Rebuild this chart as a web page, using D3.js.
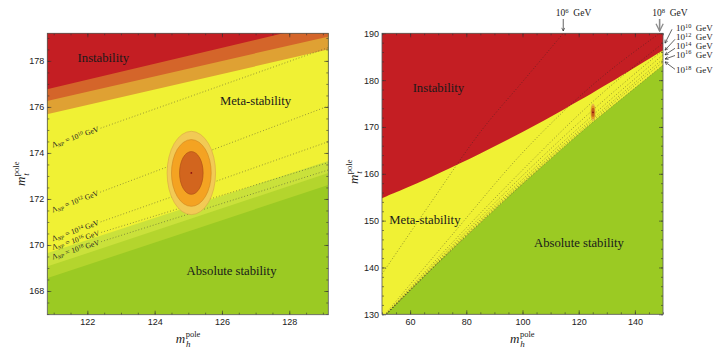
<!DOCTYPE html>
<html>
<head>
<meta charset="utf-8">
<script src="https://cdn.jsdelivr.net/npm/d3@7"></script>
<style>
  body { margin: 0; background: #fff; }
</style>
</head>
<body>
<script>
// ---- left panel data (mh, mt in GeV) ----
const leftInstab      = [[120.8, 176.77], [129.2, 179.68]];
const leftInstabBand1 = [[120.8, 176.26], [129.2, 179.07]];
const leftInstabBand2 = [[120.8, 175.68], [129.2, 178.51]];
const leftStabBand1   = [[120.8, 169.64], [129.2, 173.67]];
const leftStabBand2   = [[120.8, 169.06], [129.2, 173.15]];
const leftStab        = [[120.8, 168.55], [129.2, 172.63]];

// instability scale contours, exponent of 10 GeV
const lambdaExp = [10, 12, 14, 16, 18];
const leftLambdaStart = [174.25, 171.42, 170.18, 169.82, 169.40]; // mt at mh = 120.8
const leftLambdaEnd   = [178.60, 176.06, 174.51, 173.60, 173.28]; // mt at mh = 129.2

// measured point and its 1/2/3 sigma ellipses
const centre = [125.09, 173.13];
const sigmaMh = [0.72, 0.59, 0.35];
const sigmaMt = [1.81, 1.45, 0.93];

// ---- right panel data ----
const rInstabMh = [50, 60, 70, 85, 100, 115, 130, 150];
const rInstabMt = [154.8, 157.3, 160.0, 164.3, 168.9, 173.8, 179.0, 186.4];
const rStabMh = [51.5, 60, 70, 85, 100, 112.5, 125, 137.5, 150];
const rStabMt = [130, 135.1, 141, 149.5, 157.8, 164.5, 171, 177.1, 183.2];

const rLambdaMh = [51.5, 75, 100, 125, 150];
const rLambdaMt = [
  [130.1, 145.3, 160.8, 175.4, 187.9],   // 10^10
  [130.0, 144.7, 159.6, 173.6, 186.4],   // 10^12
  [130.0, 144.3, 158.8, 172.5, 185.4],   // 10^14
  [130.0, 144.1, 158.3, 171.8, 184.5],   // 10^16
  [130.0, 143.9, 158.0, 171.35, 183.9]   // 10^18
];
const rLambda8Mh = [51.5, 75, 100, 125, 148.8];
const rLambda8Mt = [130.3, 147, 164.5, 179, 190];
const rLambda6Mh = [50, 67, 85.6, 100.5, 114.5];
const rLambda6Mt = [138.6, 153.5, 169.4, 180, 190];

// ---- style ----
const serif = "'Liberation Serif', 'DejaVu Serif', serif";
const sans = "'Liberation Sans', Arial, sans-serif";
const col = {
  red: '#C41E23', dkorange: '#D4652A', orange: '#DFA133', yellow: '#F0F134',
  green: '#9BCA23', green2: '#B4D52D', green3: '#CAE13B'
};
const ellFill = ['#F2CA55', '#F4A322', '#D2651E'];
const ellStroke = ['#D9A445', '#CF8420', '#A84A14'];

const width = 719, height = 355;
const svg = d3.select('body').append('svg').attr('width', width).attr('height', height);

// scales
const xL = d3.scaleLinear().domain([120.81, 129.16]).range([47.3, 328.3]);
const yL = d3.scaleLinear().domain([166.97, 179.2]).range([314.7, 33.3]);
const xR = d3.scaleLinear().domain([50, 150]).range([382, 663]);
const yR = d3.scaleLinear().domain([130, 190]).range([314.3, 33.3]);

function clipFor(id, x, y) {
  svg.append('clipPath').attr('id', id).append('rect')
    .attr('x', x.range()[0]).attr('y', y.range()[1])
    .attr('width', x.range()[1] - x.range()[0]).attr('height', y.range()[0] - y.range()[1]);
}
clipFor('clipL', xL, yL);
clipFor('clipR', xR, yR);

// sub / superscript text helper
function rich(t, parts, fs, up = 0.42, down = 0.25) {
  let shift = 0;
  parts.forEach(([s, mode, style]) => {
    const target = mode === 'sub' ? down : mode === 'sup' ? -up : 0;
    const ts = t.append('tspan').text(s).attr('dy', ((target - shift) * fs).toFixed(2));
    if (mode) ts.attr('font-size', fs * 0.7);
    if (style) ts.attr('font-style', style);
    shift = target;
  });
}

function mathLabel(x, y, rot, sub) {
  const g = svg.append('g').attr('transform', `translate(${x},${y}) rotate(${rot})`);
  const m = g.append('text').text('m').attr('font-family', serif).attr('font-style', 'italic')
    .attr('font-size', 13).attr('fill', '#222');
  const w = m.node().getComputedTextLength();
  const p = g.append('text').text('pole').attr('x', w + 0.5).attr('y', -6)
    .attr('font-family', serif).attr('font-size', 8.5).attr('fill', '#222');
  g.append('text').text(sub).attr('x', w + 0.8).attr('y', 3.5).attr('font-family', serif)
    .attr('font-style', 'italic').attr('font-size', 9).attr('fill', '#222');
  const tot = w + p.node().getComputedTextLength();
  g.selectAll('text').attr('transform', `translate(${-tot / 2},0)`);
}

function frame(x, y, xMaj, xMin, yMaj, yMin) {
  const g = svg.append('g');
  const fix = s => {
    s.select('.domain').remove();
    s.selectAll('line').attr('stroke', '#333').attr('stroke-width', 0.6);
    s.selectAll('text').attr('font-family', sans).attr('font-size', 9).attr('fill', '#222');
  };
  const b = y.range()[0], t = y.range()[1], l = x.range()[0], r = x.range()[1];
  g.append('g').attr('transform', `translate(0,${b})`)
    .call(d3.axisBottom(x).tickValues(xMaj).tickSize(-4).tickPadding(4)).call(fix);
  g.append('g').attr('transform', `translate(0,${b})`)
    .call(d3.axisBottom(x).tickValues(xMin).tickSize(-2).tickFormat('')).call(fix);
  g.append('g').attr('transform', `translate(0,${t})`)
    .call(d3.axisTop(x).tickValues(xMaj).tickSize(-4).tickFormat('')).call(fix);
  g.append('g').attr('transform', `translate(0,${t})`)
    .call(d3.axisTop(x).tickValues(xMin).tickSize(-2).tickFormat('')).call(fix);
  g.append('g').attr('transform', `translate(${l},0)`)
    .call(d3.axisLeft(y).tickValues(yMaj).tickSize(-4).tickPadding(3)).call(fix);
  g.append('g').attr('transform', `translate(${l},0)`)
    .call(d3.axisLeft(y).tickValues(yMin).tickSize(-2).tickFormat('')).call(fix);
  g.append('g').attr('transform', `translate(${r},0)`)
    .call(d3.axisRight(y).tickValues(yMaj).tickSize(-4).tickFormat('')).call(fix);
  g.append('g').attr('transform', `translate(${r},0)`)
    .call(d3.axisRight(y).tickValues(yMin).tickSize(-2).tickFormat('')).call(fix);
  g.append('rect').attr('x', l).attr('y', t).attr('width', r - l).attr('height', b - t)
    .attr('fill', 'none').attr('stroke', '#555').attr('stroke-width', 0.8);
}

function regionLabel(x, y, mh, mt, txt) {
  svg.append('text').attr('x', x(mh)).attr('y', y(mt)).text(txt)
    .attr('font-family', serif).attr('font-size', 12.7).attr('fill', '#1a1a1a');
}

function ellipses(g, x, y) {
  sigmaMh.forEach((a, i) => {
    g.append('ellipse').attr('cx', x(centre[0])).attr('cy', y(centre[1]))
      .attr('rx', x(centre[0] + a) - x(centre[0])).attr('ry', y(centre[1]) - y(centre[1] + sigmaMt[i]))
      .attr('fill', ellFill[i]).attr('stroke', ellStroke[i]).attr('stroke-width', 0.6);
  });
  g.append('circle').attr('cx', x(centre[0])).attr('cy', y(centre[1])).attr('r', 0.9).attr('fill', '#8a1010');
}

// ================= left panel =================
const gL = svg.append('g').attr('clip-path', 'url(#clipL)');
gL.append('rect').attr('x', 47.3).attr('y', 33.3).attr('width', 281).attr('height', 281.4).attr('fill', col.green);

const aboveL = d3.area().x(d => xL(d[0])).y0(yL(180)).y1(d => yL(d[1]));
[[leftStab, col.green2], [leftStabBand2, col.green3], [leftStabBand1, col.yellow],
 [leftInstabBand2, col.orange], [leftInstabBand1, col.dkorange], [leftInstab, col.red]]
  .forEach(([d, c]) => gL.append('path').datum(d).attr('d', aboveL).attr('fill', c));

// lambda contours with labels
lambdaExp.forEach((e, i) => {
  const p0 = [120.8, leftLambdaStart[i]], p1 = [129.2, leftLambdaEnd[i]];
  const slope = (p1[1] - p0[1]) / (p1[0] - p0[0]);
  const mtAt = mh => p0[1] + slope * (mh - p0[0]);
  const ang = Math.atan2(yL(p1[1]) - yL(p0[1]), xL(p1[0]) - xL(p0[0]));
  const mhStart = 120.95;
  const lab = gL.append('text')
    .attr('transform', `translate(${xL(mhStart)},${yL(mtAt(mhStart))}) rotate(${ang * 180 / Math.PI})`)
    .attr('y', 2.3).attr('font-family', serif).attr('font-size', 7.6).attr('fill', '#222');
  rich(lab, [['\u039B'], ['NP', 'sub', 'italic'], [' = 10'], [String(e), 'sup'], [' GeV']], 7.6, 0.32, 0.2);
  const w = lab.node().getComputedTextLength();
  const mhEnd = xL.invert(xL(mhStart) + (w + 2) * Math.cos(ang));
  gL.append('path').datum([[mhEnd, mtAt(mhEnd)], p1])
    .attr('d', d3.line().x(d => xL(d[0])).y(d => yL(d[1])))
    .attr('fill', 'none').attr('stroke', '#333').attr('stroke-width', 0.7)
    .attr('stroke-dasharray', '0.9,2.1').attr('opacity', 0.75);
});

ellipses(gL, xL, yL);
frame(xL, yL, [122, 124, 126, 128], d3.range(121, 129.1, 0.5),
  [168, 170, 172, 174, 176, 178], d3.range(167, 179.1, 0.5));

regionLabel(xL, yL, 121.71, 177.96, 'Instability');
regionLabel(xL, yL, 125.94, 176.09, 'Meta-stability');
regionLabel(xL, yL, 124.95, 168.70, 'Absolute stability');
mathLabel(187.8, 343, 0, 'h');
mathLabel(25, 174, -90, 't');

// ================= right panel =================
const gR = svg.append('g').attr('clip-path', 'url(#clipR)');
gR.append('rect').attr('x', 382).attr('y', 33.3).attr('width', 281).attr('height', 281).attr('fill', col.yellow);

const zipR = (mh, mt) => mh.map((m, i) => [m, mt[i]]);
gR.append('path').datum(zipR(rStabMh, rStabMt))
  .attr('d', d3.area().curve(d3.curveMonotoneX).x(d => xR(d[0])).y0(yR(129)).y1(d => yR(d[1])))
  .attr('fill', col.green);
gR.append('path').datum(zipR(rInstabMh, rInstabMt))
  .attr('d', d3.area().curve(d3.curveBasis).x(d => xR(d[0])).y0(yR(191)).y1(d => yR(d[1])))
  .attr('fill', col.red);

const lineR = d3.line().curve(d3.curveMonotoneX).x(d => xR(d[0])).y(d => yR(d[1]));
const rLines = rLambdaMt.map(mt => zipR(rLambdaMh, mt))
  .concat([zipR(rLambda8Mh, rLambda8Mt), zipR(rLambda6Mh, rLambda6Mt)]);
rLines.forEach(d => gR.append('path').datum(d).attr('d', lineR)
  .attr('fill', 'none').attr('stroke', '#222').attr('stroke-width', 0.7)
  .attr('stroke-dasharray', '0.9,2.1').attr('opacity', 0.7));
// stability edge
gR.append('path').datum(zipR(rStabMh, rStabMt)).attr('d', lineR)
  .attr('fill', 'none').attr('stroke', '#333').attr('stroke-width', 0.8)
  .attr('stroke-dasharray', '0.9,1.3').attr('opacity', 0.6);

ellipses(gR, xR, yR);
frame(xR, yR, [60, 80, 100, 120, 140], d3.range(50, 151, 5),
  [130, 140, 150, 160, 170, 180, 190], d3.range(130, 191, 2));

regionLabel(xR, yR, 60.9, 177.47, 'Instability');
regionLabel(xR, yR, 52.6, 149.28, 'Meta-stability');
regionLabel(xR, yR, 104.1, 144.3, 'Absolute stability');
mathLabel(522, 343, 0, 'h');
mathLabel(358, 172, -90, 't');

// ---- scale annotations ----
const defs = svg.append('defs');
['k', 'g'].forEach(k => defs.append('marker').attr('id', 'arr' + k)
  .attr('viewBox', '0 0 8 8').attr('refX', 7).attr('refY', 4)
  .attr('markerWidth', 6).attr('markerHeight', 6).attr('orient', 'auto')
  .append('path').attr('d', 'M1,1 L7,4 L1,7').attr('fill', 'none')
  .attr('stroke', k === 'k' ? '#222' : '#8c8c8c').attr('stroke-width', 1.1));

function gevText(x, y, e, fs) {
  const t = svg.append('text').attr('x', x).attr('y', y)
    .attr('font-family', serif).attr('font-size', fs).attr('fill', '#222');
  rich(t, [['10'], [String(e), 'sup'], ['\u2002GeV']], fs, 0.36);
}

// top arrows
[[6, rLambda6Mh[rLambda6Mh.length - 1], 'k', 0.7], [8, rLambda8Mh[rLambda8Mh.length - 1], 'g', 1.6]]
  .forEach(([e, mh, k, sw]) => {
    const x = xR(mh);
    svg.append('line').attr('x1', x).attr('x2', x).attr('y1', 19).attr('y2', 31)
      .attr('stroke', k === 'k' ? '#222' : '#8c8c8c').attr('stroke-width', sw)
      .attr('marker-end', `url(#arr${k})`);
    gevText(x - 7.5, 16, e, 9.5);
  });

// right-edge arrows
const labY = [31, 40, 49, 57.5, 73];
const tailY = [29.3, 39.3, 48.3, 55.5, 69.3];
lambdaExp.forEach((e, i) => {
  const tip = rLambdaMt[i][rLambdaMt[i].length - 1];
  svg.append('line').attr('x1', i === 0 ? 672 : 675).attr('y1', tailY[i])
    .attr('x2', xR(150) + 2).attr('y2', yR(tip))
    .attr('stroke', '#222').attr('stroke-width', 0.7).attr('marker-end', 'url(#arrk)');
  gevText(676, labY[i], e, 9);
});
</script>
</body>
</html>
